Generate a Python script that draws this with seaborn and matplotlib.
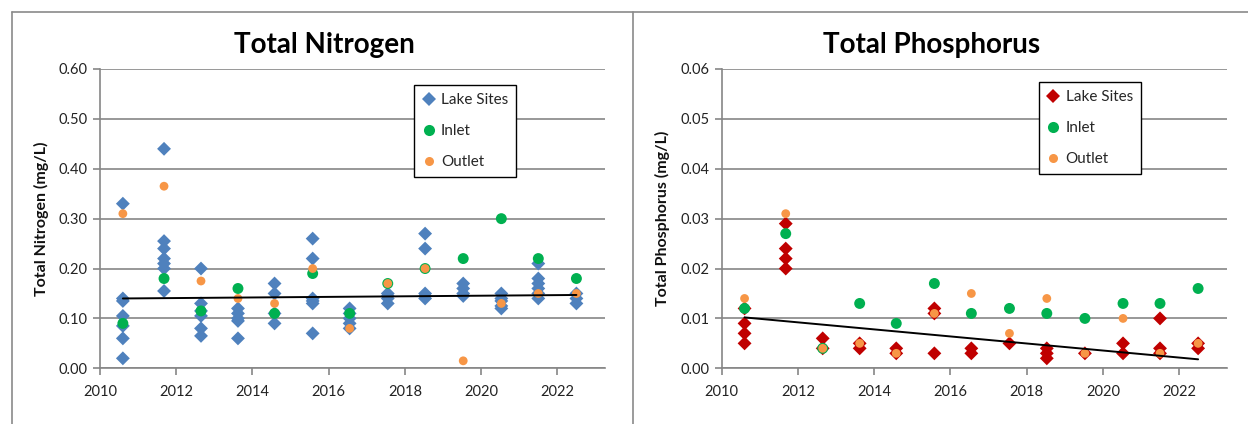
import numpy as np
import pandas as pd
import matplotlib
matplotlib.use("Agg")
import matplotlib.pyplot as plt
from matplotlib.lines import Line2D
from matplotlib.ticker import FormatStrFormatter, MultipleLocator
import seaborn as sns

# ---------------- data ----------------
years = [2010.60, 2011.68, 2012.65, 2013.62, 2014.58, 2015.58, 2016.55,
         2017.55, 2018.53, 2019.53, 2020.53, 2021.50, 2022.50]

tn_lake = [
    [0.33, 0.14, 0.135, 0.105, 0.085, 0.06, 0.02],
    [0.44, 0.255, 0.24, 0.22, 0.21, 0.20, 0.155],
    [0.20, 0.13, 0.115, 0.105, 0.08, 0.065],
    [0.12, 0.11, 0.10, 0.095, 0.06],
    [0.17, 0.15, 0.11, 0.09],
    [0.26, 0.22, 0.14, 0.135, 0.13, 0.07],
    [0.12, 0.11, 0.10, 0.09, 0.08],
    [0.15, 0.145, 0.14, 0.13],
    [0.27, 0.24, 0.15, 0.145, 0.14],
    [0.17, 0.16, 0.15, 0.145],
    [0.15, 0.14, 0.135, 0.125, 0.12],
    [0.21, 0.18, 0.17, 0.16, 0.15, 0.14],
    [0.15, 0.14, 0.13],
]
tn_inlet = [0.09, 0.18, 0.115, 0.16, 0.11, 0.19, 0.11, 0.17, 0.20, 0.22, 0.30, 0.22, 0.18]
tn_outlet = [0.31, 0.365, 0.175, 0.14, 0.13, 0.20, 0.08, 0.17, 0.20, 0.015, 0.13, 0.15, 0.15]
tn_trend = [0.140, 0.147]

tp_lake = [
    [0.012, 0.009, 0.007, 0.005],
    [0.029, 0.024, 0.022, 0.020],
    [0.006, 0.004],
    [0.005, 0.004],
    [0.004, 0.003],
    [0.012, 0.011, 0.003],
    [0.004, 0.003],
    [0.005],
    [0.004, 0.003, 0.002],
    [0.003],
    [0.005, 0.003],
    [0.010, 0.004, 0.003],
    [0.005, 0.004],
]
tp_inlet = [0.012, 0.027, 0.004, 0.013, 0.009, 0.017, 0.011, 0.012, 0.011, 0.010, 0.013, 0.013, 0.016]
tp_outlet = [0.014, 0.031, 0.004, 0.005, 0.003, 0.011, 0.015, 0.007, 0.014, 0.003, 0.010, 0.003, 0.005]
tp_trend = [0.0102, 0.0018]

series_labels = ["Lake Sites", "Inlet", "Outlet"]
titles = ["Total Nitrogen", "Total Phosphorus"]
ylabels = ["Total Nitrogen (mg/L)", "Total Phosphorus (mg/L)"]

# ---------------- style ----------------
sns.set_theme(style="white")
plt.rcParams["font.family"] = ["Lato", "DejaVu Sans"]

GRID = "#868686"
GREEN = "#00B050"
ORANGE = "#F79646"
BLUE = "#4F81BD"
RED = "#C00000"

W, H = 1248, 424
fig = plt.figure(figsize=(W / 100, H / 100), dpi=100)


def long_df(lake, inlet, outlet):
    rows = []
    for yr, vals in zip(years, lake):
        for v in vals:
            rows.append((yr, v, "Lake Sites"))
    for yr, v in zip(years, inlet):
        rows.append((yr, v, "Inlet"))
    for yr, v in zip(years, outlet):
        rows.append((yr, v, "Outlet"))
    return pd.DataFrame(rows, columns=["year", "value", "site"])


def draw(ax, df, lake_color, trend, ymax, ystep, fmt, ylabel, leg_anchor):
    ax.set_xlim(2010, 2023.25)
    ax.set_ylim(0, ymax)
    ax.yaxis.set_major_locator(MultipleLocator(ystep))
    ax.yaxis.set_major_formatter(FormatStrFormatter(fmt))
    ax.xaxis.set_major_locator(MultipleLocator(2))
    ax.xaxis.set_major_formatter(FormatStrFormatter("%d"))
    ax.grid(axis="y", color=GRID, linewidth=1.2, zorder=0)
    ax.set_axisbelow(True)
    for s in ["top", "right"]:
        ax.spines[s].set_visible(False)
    for s in ["left", "bottom"]:
        ax.spines[s].set_color(GRID)
        ax.spines[s].set_linewidth(1.2)
    ax.tick_params(axis="both", which="both", direction="out", length=5,
                   width=1.2, color=GRID, labelsize=10.5, labelcolor="#222222",
                   left=True, bottom=True, pad=4)
    ax.tick_params(axis="x", pad=7)

    sns.scatterplot(data=df[df.site == "Lake Sites"], x="year", y="value",
                    marker="D", s=50, color=lake_color, edgecolor="none",
                    ax=ax, legend=False, zorder=3)
    sns.scatterplot(data=df[df.site == "Inlet"], x="year", y="value",
                    marker="o", s=62, color=GREEN, edgecolor="none",
                    ax=ax, legend=False, zorder=4)
    sns.scatterplot(data=df[df.site == "Outlet"], x="year", y="value",
                    marker="o", s=40, color=ORANGE, edgecolor="none",
                    ax=ax, legend=False, zorder=5)
    sns.lineplot(x=[years[0], years[-1]], y=trend, color="black",
                 linewidth=1.4, ax=ax, zorder=6)

    ax.set_xlabel("")
    ax.set_ylabel(ylabel, fontsize=11.5, fontweight="bold", labelpad=7,
                  color="#111111")

    handles = [
        Line2D([], [], marker="D", linestyle="none", color=lake_color,
               markersize=7, markeredgewidth=0),
        Line2D([], [], marker="o", linestyle="none", color=GREEN,
               markersize=8, markeredgewidth=0),
        Line2D([], [], marker="o", linestyle="none", color=ORANGE,
               markersize=6.5, markeredgewidth=0),
    ]
    leg = ax.legend(handles, series_labels, loc="upper left",
                    bbox_to_anchor=leg_anchor, frameon=True, fancybox=False,
                    edgecolor="black", framealpha=1, fontsize=11,
                    handlelength=0.8, handletextpad=0.4, labelspacing=1.1,
                    borderpad=0.55, borderaxespad=0)
    leg.get_frame().set_linewidth(1.0)
    leg.set_zorder(10)


ax1 = fig.add_axes([100 / W, 1 - 368.3 / H, 505 / W, 299.3 / H])
ax2 = fig.add_axes([721.7 / W, 1 - 368.3 / H, 505 / W, 299.3 / H])

draw(ax1, long_df(tn_lake, tn_inlet, tn_outlet), BLUE, tn_trend,
     0.6, 0.1, "%.2f", ylabels[0], (0.622, 0.947))
draw(ax2, long_df(tp_lake, tp_inlet, tp_outlet), RED, tp_trend,
     0.06, 0.01, "%.2f", ylabels[1], (0.628, 0.957))

# titles centered over each chart area
fig.text(324 / W, 1 - 45 / H, titles[0], ha="center", va="center",
         fontsize=20, fontweight="bold", color="black")
fig.text(932 / W, 1 - 45 / H, titles[1], ha="center", va="center",
         fontsize=20, fontweight="bold", color="black")

# outer frame lines
frame_kw = dict(color="#8a8a8a", linewidth=1.2, transform=fig.transFigure)
fig.add_artist(Line2D([12 / W, 1], [1 - 12 / H, 1 - 12 / H], **frame_kw))
fig.add_artist(Line2D([12 / W, 12 / W], [0, 1 - 12 / H], **frame_kw))
fig.add_artist(Line2D([633 / W, 633 / W], [0, 1 - 12 / H], **frame_kw))

fig.savefig("out.png", dpi=100, facecolor="white")
